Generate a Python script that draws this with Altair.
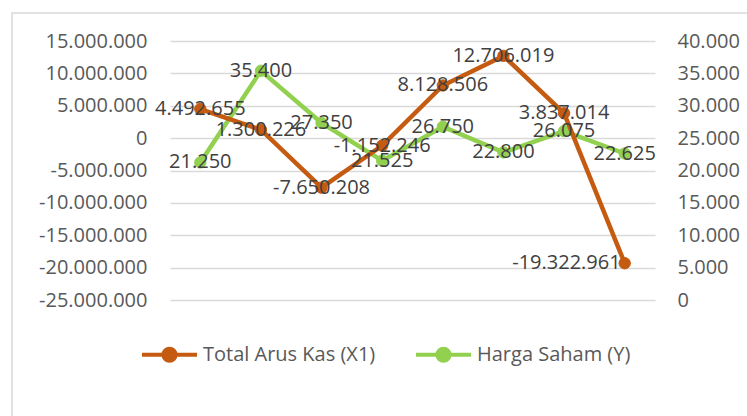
import altair as alt
import pandas as pd

years = ["2016", "2017", "2018", "2019", "2020", "2021", "2022", "2023"]
arus_kas = [4492655, 1300226, -7650208, -1152246, 8128506, 12706019, 3837014, -19322961]
harga_saham = [21250, 35400, 27350, 21525, 26750, 22800, 26075, 22625]
series_names = ["Total Arus Kas (X1)", "Harga Saham (Y)"]
series_colors = ["#C55A11", "#92D050"]
left_ticks = [-25000000, -20000000, -15000000, -10000000, -5000000, 0, 5000000, 10000000, 15000000]
right_ticks = [0, 5000, 10000, 15000, 20000, 25000, 30000, 35000, 40000]

df_kas = pd.DataFrame({"year": years, "value": arus_kas, "series": series_names[0]})
df_saham = pd.DataFrame({"year": years, "value": harga_saham, "series": series_names[1]})

FONT = "Open Sans"
FS = 20
fmt = "replace(replace(format(datum.value, ','), regexp(',', 'g'), '.'), '\u2212', '-')"

x_enc = alt.X("year:O", title=None, scale=alt.Scale(type="point", padding=0.5),
              axis=alt.Axis(labelAngle=0, labelFont=FONT, labelFontSize=FS, labelColor="#595959",
                            domain=False, ticks=False, labelPadding=16))
x_noaxis = alt.X("year:O", title=None, scale=alt.Scale(type="point", padding=0.5), axis=None)

left_scale = alt.Scale(domain=[left_ticks[0], left_ticks[-1]], nice=False, zero=False)
right_scale = alt.Scale(domain=[right_ticks[0], right_ticks[-1]], nice=False, zero=False)

color_scale = alt.Scale(domain=series_names, range=series_colors)
legend = alt.Legend(title=None, orient="none", legendX=-30, legendY=284, direction="horizontal",
                    symbolType="M-1,0L1,0M0.22,0A0.22,0.22,0,1,1,-0.22,0A0.22,0.22,0,1,1,0.22,0Z",
                    symbolSize=3025, symbolStrokeWidth=4, labelFont=FONT, labelFontSize=FS,
                    labelColor="#595959", labelOffset=4, labelLimit=0, columnPadding=32)

border = alt.Chart(pd.DataFrame({"k": [0]})).mark_rect(
    fill=None, stroke="#D9D9D9", strokeWidth=1.5
).encode(x=alt.value(-158), x2=alt.value(900), y=alt.value(-28), y2=alt.value(600))

saham_line = alt.Chart(df_saham).mark_line(strokeWidth=4.5).encode(
    x=x_enc,
    y=alt.Y("value:Q", title=None, scale=right_scale,
            axis=alt.Axis(orient="right", values=right_ticks, labelExpr=fmt, labelFont=FONT,
                          labelFontSize=FS, labelColor="#595959", domain=False, ticks=False,
                          labelPadding=22, grid=False)),
    stroke=alt.Stroke("series:N", scale=color_scale, legend=legend),
)
saham_pts = alt.Chart(df_saham).mark_point(filled=True, size=130, opacity=1, strokeWidth=1).encode(
    x=x_noaxis,
    y=alt.Y("value:Q", scale=right_scale, axis=None),
    fill=alt.Fill("series:N", scale=color_scale, legend=legend),
    stroke=alt.Stroke("series:N", scale=color_scale, legend=legend),
)
kas_line = alt.Chart(df_kas).mark_line(strokeWidth=4.5).encode(
    x=x_noaxis,
    y=alt.Y("value:Q", title=None, scale=left_scale,
            axis=alt.Axis(orient="left", values=left_ticks, labelExpr=fmt, labelFont=FONT,
                          labelFontSize=FS, labelColor="#595959", domain=False, ticks=False,
                          labelPadding=23, grid=True, gridColor="#D9D9D9", gridWidth=1.5)),
    stroke=alt.Stroke("series:N", scale=color_scale, legend=legend),
)
kas_pts = alt.Chart(df_kas).mark_point(filled=True, size=130, opacity=1, strokeWidth=1).encode(
    x=x_noaxis,
    y=alt.Y("value:Q", scale=left_scale, axis=None),
    fill=alt.Fill("series:N", scale=color_scale, legend=legend),
    stroke=alt.Stroke("series:N", scale=color_scale, legend=legend),
)

label_kw = dict(font=FONT, fontSize=FS, color="#404040", baseline="middle")
kas_text = alt.Chart(df_kas).transform_calculate(label=fmt).transform_filter(
    f"datum.year != '{years[-1]}'"
).mark_text(align="center", **label_kw).encode(
    x=x_noaxis, y=alt.Y("value:Q", scale=left_scale, axis=None), text="label:N")
kas_text_last = alt.Chart(df_kas).transform_calculate(label=fmt).transform_filter(
    f"datum.year == '{years[-1]}'"
).mark_text(align="right", dx=-4, **label_kw).encode(
    x=x_noaxis, y=alt.Y("value:Q", scale=left_scale, axis=None), text="label:N")
saham_text = alt.Chart(df_saham).transform_calculate(label=fmt).mark_text(
    align="center", **label_kw).encode(
    x=x_noaxis, y=alt.Y("value:Q", scale=right_scale, axis=None), text="label:N")

chart = alt.layer(
    border, saham_line, saham_pts, kas_line, kas_pts, kas_text, kas_text_last, saham_text
).resolve_scale(y="independent").properties(
    width=485, height=259,
    autosize=alt.AutoSizeParams(type="none"),
    padding={"left": 170, "top": 41, "right": 92, "bottom": 116},
    background="white",
).configure_view(stroke=None)

chart.save("out.html", embed_options={"renderer": "svg", "actions": False})
